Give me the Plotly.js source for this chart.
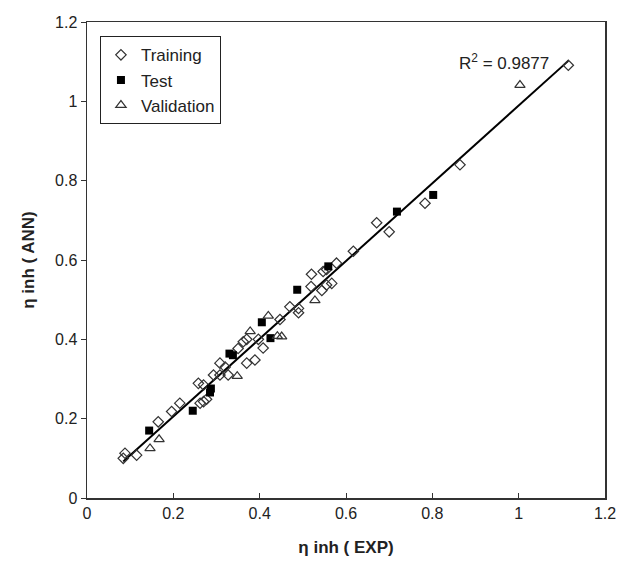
<!DOCTYPE html>
<html>
<head>
<meta charset="utf-8">
<script src="https://cdn.plot.ly/plotly-3.0.1.min.js"></script>
<style>html,body{margin:0;padding:0;background:#fff;}#chart{width:622px;height:564px;}</style>
</head>
<body>
<div id="chart"></div>
<script>
// Training (open diamonds)
const trainX = [0.084,0.088,0.115,0.165,0.196,0.215,0.258,0.270,0.262,0.270,0.277,0.293,0.308,0.320,0.308,0.327,0.350,0.362,0.370,0.370,0.389,0.397,0.408,0.447,0.470,0.490,0.490,0.519,0.520,0.544,0.555,0.567,0.547,0.555,0.578,0.617,0.671,0.700,0.783,0.864,1.115];
const trainY = [0.100,0.113,0.108,0.192,0.218,0.239,0.289,0.285,0.239,0.243,0.249,0.310,0.340,0.330,0.310,0.310,0.377,0.394,0.400,0.340,0.348,0.400,0.378,0.450,0.482,0.478,0.467,0.533,0.564,0.523,0.537,0.541,0.571,0.576,0.592,0.622,0.694,0.671,0.743,0.840,1.091];
// Test (filled squares)
const testX = [0.144,0.245,0.285,0.287,0.330,0.338,0.405,0.425,0.487,0.559,0.718,0.802];
const testY = [0.170,0.220,0.266,0.276,0.364,0.360,0.443,0.403,0.525,0.584,0.722,0.764];
// Validation (open triangles)
const valX = [0.146,0.167,0.348,0.378,0.420,0.441,0.451,0.528,1.003];
const valY = [0.125,0.148,0.307,0.420,0.459,0.408,0.407,0.498,1.041];

const tickVals = [0,0.2,0.4,0.6,0.8,1,1.2];
const tickText = ["0","0.2","0.4","0.6","0.8","1","1.2"];
const r2Text = "R<sup>2</sup> = 0.9877";

// least-squares trend line over all points
const allX = trainX.concat(testX, valX);
const allY = trainY.concat(testY, valY);
const n = allX.length;
const mx = allX.reduce((a,b)=>a+b,0)/n;
const my = allY.reduce((a,b)=>a+b,0)/n;
let sxy=0, sxx=0;
for (let i=0;i<n;i++){ sxy += (allX[i]-mx)*(allY[i]-my); sxx += (allX[i]-mx)*(allX[i]-mx); }
const slope = sxy/sxx, icpt = my - slope*mx;
const xmin = Math.min(...allX), xmax = Math.max(...allX);

const font = "Liberation Sans, Arial, sans-serif";

const traces = [
  {x:[xmin,xmax], y:[icpt+slope*xmin, icpt+slope*xmax], mode:'lines', line:{color:'#000', width:2}, showlegend:false, hoverinfo:'skip'},
  {x:trainX, y:trainY, mode:'markers', name:'Training', marker:{symbol:'diamond-open', size:8, color:'#333', line:{width:1.2, color:'#333'}}},
  {x:testX, y:testY, mode:'markers', name:'Test', marker:{symbol:'square', size:8, color:'#000'}},
  {x:valX, y:valY, mode:'markers', name:'Validation', marker:{symbol:'triangle-up-open', size:9, color:'#333', line:{width:1.2, color:'#333'}}}
];

const layout = {
  width:622, height:564,
  margin:{l:87, r:17, t:22, b:66},
  paper_bgcolor:'#fff', plot_bgcolor:'#fff',
  font:{family:font, color:'#222', size:16},
  showlegend:true,
  legend:{x:0.025, y:0.97, xanchor:'left', yanchor:'top', bgcolor:'#fff', bordercolor:'#222', borderwidth:1, itemwidth:30, font:{size:17, family:font, color:'#222'}},
  xaxis:{range:[0,1.2], tickvals:tickVals, ticktext:tickText, showgrid:false, zeroline:false,
    showline:true, linecolor:'#333', linewidth:1.5, mirror:true, ticks:'inside', ticklen:5, tickcolor:'#333',
    tickfont:{size:16, family:font, color:'#222'}, title:{text:'<b>η inh ( EXP)</b>', font:{size:17, family:font, color:'#222'}, standoff:20}},
  yaxis:{range:[0,1.2], tickvals:tickVals, ticktext:tickText, showgrid:false, zeroline:false,
    showline:true, linecolor:'#333', linewidth:1.5, mirror:true, ticks:'outside', ticklen:5, tickcolor:'#333',
    tickfont:{size:16, family:font, color:'#222'}, title:{text:'<b>η inh ( ANN)</b>', font:{size:17, family:font, color:'#222'}, standoff:16}},
  annotations:[{x:1.075, y:1.10, xref:'x', yref:'y', text:r2Text, showarrow:false, xanchor:'right', yanchor:'middle', font:{size:17, family:font, color:'#222'}}]
};

Plotly.newPlot('chart', traces, layout, {displayModeBar:false, staticPlot:true});
</script>
</body>
</html>
